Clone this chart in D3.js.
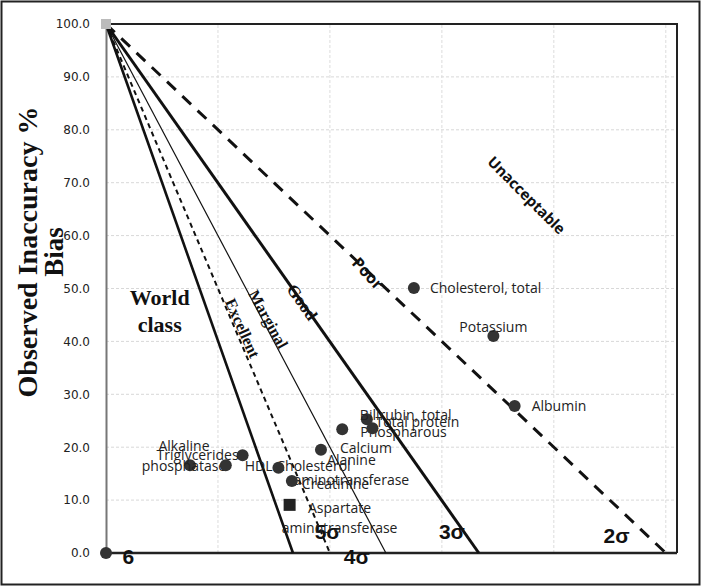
<!DOCTYPE html>
<html>
<head>
<meta charset="utf-8">
<script src="https://cdn.jsdelivr.net/npm/d3@7"></script>
<style>
  body { margin: 0; background: #fff; }
  svg { display: block; }
</style>
</head>
<body>
<svg></svg>
<script>
'use strict';
// chart values
var analytes = ['Alkaline phosphatase', 'HDL Cholesterol', 'Triglycerides', 'Alanine aminotransferase',
  'Creatinine', 'Calcium', 'Phospharous', 'Bilirubin, total', 'Total protein',
  'Cholesterol, total', 'Potassium', 'Albumin', 'Aspartate aminotransferase'];
var labelLines = [['Alkaline', 'phosphatase'], ['HDL Cholesterol'], ['Triglycerides'], ['Alanine', 'aminotransferase'],
  ['Creatinine'], ['Calcium'], ['Phospharous'], ['Bilirubin, total'], ['Total protein'],
  ['Cholesterol, total'], ['Potassium'], ['Albumin'], ['Aspartate', 'aminotransferase']];
var imprecision = [7.5, 10.7, 12.2, 15.4, 16.6, 19.2, 21.1, 23.3, 23.8, 27.5, 34.6, 36.5, 16.4];
var inaccuracy = [16.6, 16.6, 18.5, 16.1, 13.6, 19.5, 23.4, 25.3, 23.6, 50.1, 41.0, 27.8, 9.1];
var markerType = ['dot', 'dot', 'dot', 'dot', 'dot', 'dot', 'dot', 'dot', 'dot', 'dot', 'dot', 'dot', 'square'];

// sigma lines all start at (0, 100) and end on the x axis
var sigmaNames = ['6', '5σ', '4σ', '3σ', '2σ'];
var sigmaIntercepts = [16.7, 20, 25, 33.3, 50];
var zoneNames = ['Excellent', 'Marginal', 'Good', 'Poor', 'Unacceptable'];
var yTicks = [0, 10, 20, 30, 40, 50, 60, 70, 80, 90, 100];
var xGrid = [10, 20, 30, 40, 50];

// layout (pixels) kept apart from the values
var labelOffsets = [[-6, -19, 'middle'], [19, 1, 'start'], [-4, 0, 'end'], [73, -8, 'middle'],
  [10, 3, 'start'], [19, -2, 'start'], [18, 3, 'start'], [-7, -4, 'start'], [3, -6, 'start'],
  [16, 0, 'start'], [0, -9, 'middle'], [17, 0, 'start'], [50, 3, 'middle']];
var sigmaLabelAt = [[2.0, -0.6], [19.8, 4.0], [22.4, -0.6], [30.9, 4.0], [45.6, 3.4]];
var sigmaStyle = [
  { w: 2.6, dash: null }, { w: 2, dash: '5,4' }, { w: 1.2, dash: null },
  { w: 3, dash: null }, { w: 3, dash: '12,9' }];
var zoneAt = [[12.2, 42.5, 66], [14.5, 44.2, 61], [17.5, 47.4, 55], [23.4, 52.9, 47], [37.6, 67.7, 45]];
var zoneFont = ['serif', 'serif', 'serif', 'sans', 'sans'];
var zoneSize = [16, 16, 17, 16, 15];

var canvasWidth = 701;
var canvasHeight = 586;
var svg = d3.select('svg')
  .attr('width', canvasWidth)
  .attr('height', canvasHeight);

var xScale = d3.scaleLinear().domain([0, 51]).range([106, 677]);
var yScale = d3.scaleLinear().domain([0, 100]).range([553, 24]);

// outer frame of the picture
svg.append('rect')
  .attr('x', 1.5).attr('y', 1.5)
  .attr('width', canvasWidth - 3).attr('height', canvasHeight - 3)
  .attr('fill', 'none').attr('stroke', '#222').attr('stroke-width', 2);

// faint grid
svg.append('g').selectAll('line.h').data(yTicks.slice(1)).enter().append('line')
  .attr('x1', xScale(0)).attr('x2', xScale(51))
  .attr('y1', function(d) { return yScale(d); })
  .attr('y2', function(d) { return yScale(d); })
  .attr('stroke', '#d8d8d8').attr('stroke-width', 1).attr('stroke-dasharray', '3,2');
svg.append('g').selectAll('line.v').data(xGrid).enter().append('line')
  .attr('y1', yScale(0)).attr('y2', yScale(100))
  .attr('x1', function(d) { return xScale(d); })
  .attr('x2', function(d) { return xScale(d); })
  .attr('stroke', '#dcdcdc').attr('stroke-width', 1).attr('stroke-dasharray', '3,2');

// plot border (top + right)
svg.append('path')
  .attr('d', 'M' + xScale(0) + ',' + yScale(100) + 'H' + xScale(51) + 'V' + yScale(0))
  .attr('fill', 'none').attr('stroke', '#222').attr('stroke-width', 2);

// y axis
var yAxis = svg.append('g')
  .attr('transform', 'translate(' + xScale(0) + ',0)')
  .call(d3.axisLeft(yScale).tickValues(yTicks).tickSize(0).tickPadding(16).tickFormat(d3.format('.1f')));
yAxis.select('.domain').attr('stroke', '#777').attr('stroke-width', 2);
yAxis.selectAll('text')
  .style('font-family', '"DejaVu Sans", Verdana, sans-serif')
  .style('font-size', '12px')
  .attr('fill', '#222');

// x axis line
svg.append('line')
  .attr('x1', xScale(0)).attr('x2', xScale(51))
  .attr('y1', yScale(0)).attr('y2', yScale(0))
  .attr('stroke', '#222').attr('stroke-width', 2.5);

// sigma lines
svg.append('g').selectAll('line').data(sigmaIntercepts).enter().append('line')
  .attr('x1', xScale(0)).attr('y1', yScale(100))
  .attr('x2', function(d) { return xScale(d); })
  .attr('y2', yScale(0))
  .attr('stroke', '#111')
  .attr('stroke-width', function(d, i) { return sigmaStyle[i].w; })
  .attr('stroke-dasharray', function(d, i) { return sigmaStyle[i].dash; });

// corner markers
svg.append('rect')
  .attr('x', xScale(0) - 5).attr('y', yScale(100) - 5)
  .attr('width', 10).attr('height', 10).attr('fill', '#bbb');
svg.append('circle')
  .attr('cx', xScale(0)).attr('cy', yScale(0)).attr('r', 6).attr('fill', '#333');

// sigma labels
svg.append('g').selectAll('text').data(sigmaNames).enter().append('text')
  .attr('x', function(d, i) { return xScale(sigmaLabelAt[i][0]); })
  .attr('y', function(d, i) { return yScale(sigmaLabelAt[i][1]); })
  .attr('text-anchor', 'middle')
  .attr('dominant-baseline', 'central')
  .style('font-family', '"Liberation Sans", Arial, sans-serif')
  .style('font-weight', 'bold')
  .style('font-size', '21px')
  .attr('fill', '#111')
  .text(function(d) { return d; });

// zone labels along the lines
svg.append('g').selectAll('text').data(zoneNames).enter().append('text')
  .attr('transform', function(d, i) {
    return 'translate(' + xScale(zoneAt[i][0]) + ',' + yScale(zoneAt[i][1]) + ') rotate(' + zoneAt[i][2] + ')';
  })
  .attr('text-anchor', 'middle')
  .attr('dominant-baseline', 'central')
  .style('font-family', function(d, i) {
    return zoneFont[i] == 'serif' ? '"Liberation Serif", "Times New Roman", serif' : '"Open Sans", sans-serif';
  })
  .style('font-weight', 'bold')
  .style('font-size', function(d, i) { return zoneSize[i] + 'px'; })
  .attr('fill', '#111')
  .text(function(d) { return d; });

// World class
var world = svg.append('text')
  .attr('x', xScale(4.8))
  .attr('text-anchor', 'middle')
  .style('font-family', '"Liberation Serif", "Times New Roman", serif')
  .style('font-weight', 'bold')
  .style('font-size', '22px')
  .attr('fill', '#111');
world.append('tspan').attr('x', xScale(4.8)).attr('y', yScale(46.9)).text('World');
world.append('tspan').attr('x', xScale(4.8)).attr('y', yScale(41.8)).text('class');

// y axis title
var title = svg.append('text')
  .attr('transform', 'translate(0,252) rotate(-90)')
  .attr('text-anchor', 'middle')
  .style('font-family', '"Liberation Serif", "Times New Roman", serif')
  .style('font-weight', 'bold')
  .style('font-size', '28px')
  .attr('fill', '#111');
title.append('tspan').attr('x', 0).attr('y', 37).text('Observed Inaccuracy %');
title.append('tspan').attr('x', 0).attr('y', 63).style('font-size', '27px').text('Bias');

// analyte points
var points = svg.append('g').selectAll('g').data(analytes).enter().append('g')
  .attr('transform', function(d, i) {
    return 'translate(' + xScale(imprecision[i]) + ',' + yScale(inaccuracy[i]) + ')';
  });
points.filter(function(d, i) { return markerType[i] == 'dot'; })
  .append('circle').attr('r', 6).attr('fill', '#333');
points.filter(function(d, i) { return markerType[i] == 'square'; })
  .append('rect').attr('x', -6).attr('y', -6).attr('width', 12).attr('height', 12).attr('fill', '#222');

// data labels
points.each(function(d, i) {
  var lines = labelLines[i];
  var off = labelOffsets[i];
  var t = d3.select(this).append('text')
    .attr('text-anchor', off[2])
    .style('font-family', '"Open Sans", sans-serif')
    .style('font-size', '14px')
    .attr('fill', '#222');
  lines.forEach(function(line, k) {
    t.append('tspan')
      .attr('x', off[0])
      .attr('y', off[1] + k * 20 + 5)
      .text(line);
  });
});
</script>
</body>
</html>
